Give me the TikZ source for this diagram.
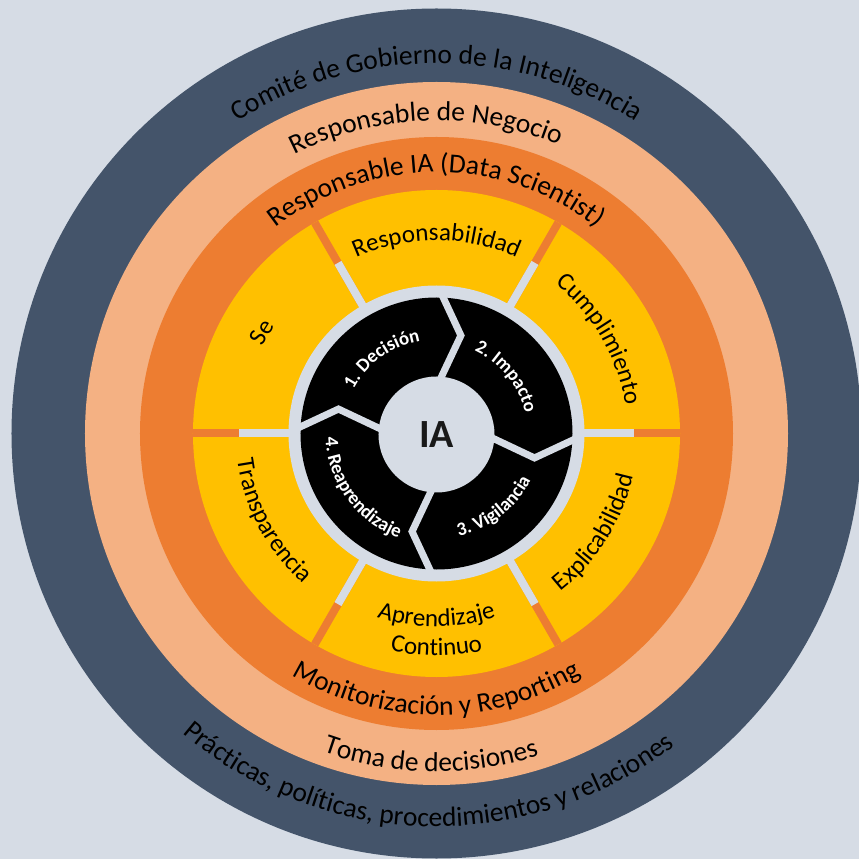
\documentclass[tikz,border=0pt]{standalone}
\usepackage{fontspec}
\setmainfont{Carlito}
\usepackage{tikz}
\usetikzlibrary{decorations.text}
\definecolor{bggray}{HTML}{D6DCE5}
\definecolor{slate}{HTML}{44546A}
\definecolor{peach}{HTML}{F4B183}
\definecolor{orng}{HTML}{ED7D31}
\definecolor{gold}{HTML}{FFC000}
\pgfdeclarelayer{nodelayer}
\pgfdeclarelayer{edgelayer}
\pgfsetlayers{edgelayer,nodelayer,main}
\newcommand{\ringfont}{\fontsize{27.5}{30}\selectfont}
\newcommand{\segfont}{\fontsize{25}{28}\selectfont}
\newcommand{\cyclefont}{\fontsize{19}{21}\selectfont\bfseries}
\tikzset{ringtext/.style={decorate, decoration={text along path, text align=center, text={|\ringfont|#1}}}}
\tikzset{segtext/.style={decorate, decoration={text along path, text align=center, text={|\segfont|#1}}}}
\tikzset{cycletext/.style={decorate, decoration={text along path, text align=center, text color=white, text={|\cyclefont|#1}}}}
\tikzset{spoke/.style={line width=8pt}}
\tikzset{notch/.style={draw=bggray, line width=7pt, miter limit=10}}
\tikzset{core/.style={circle, fill=bggray, minimum size=116pt, inner sep=0pt, font=\fontsize{40}{44}\selectfont\bfseries, text=black!90}}

\begin{document}
\begin{tikzpicture}[x=1pt, y=1pt]
	\useasboundingbox (-436.5,-425.5) rectangle (422.5,433.5);
	\begin{pgfonlayer}{edgelayer}
		\fill [bggray] (-436.5,-425.5) rectangle (422.5,433.5);
		\fill [slate] (0,0) circle (425);
		\fill [peach] (0,0) circle (351.5);
		\fill [orng] (0,0) circle (296.5);
		\fill [gold] (0,0) circle (243.5);
		\foreach \a in {0,60,...,300} {
			\draw [spoke, orng] (\a:140) -- (\a:243.5);
			\draw [spoke, bggray] (\a:140) -- (\a:197);
		}
		\fill [bggray] (0,0) circle (148);
		\fill [black] (0,0) circle (136);
		\draw [notch] (88:140) -- (76:101) -- (88:50);
		\draw [notch] (-2:140) -- (-14:101) -- (-2:50);
		\draw [notch] (268:140) -- (256:101) -- (268:50);
		\draw [notch] (178:140) -- (166:101) -- (178:50);
	\end{pgfonlayer}
	\begin{pgfonlayer}{nodelayer}
		\node [style=core] (ia) at (0, -1) {IA};
		\path [ringtext={Comité de Gobierno de la Inteligencia}] (160:370) arc [start angle=160, end angle=20, radius=370];
		\path [ringtext={Responsable de Negocio}] (152:313) arc [start angle=152, end angle=32, radius=313];
		\path [ringtext={Responsable IA (Data Scientist)}] (160:261) arc [start angle=160, end angle=20, radius=261];
		\path [ringtext={Monitorización y Reporting}] (200:281.5) arc [start angle=200, end angle=340, radius=281.5];
		\path [ringtext={Toma de decisiones}] (209:338) arc [start angle=209, end angle=329, radius=338];
		\path [ringtext={Prácticas, políticas, procedimientos y relaciones}] (188:393) arc [start angle=188, end angle=349, radius=393];
		\path [segtext={Responsabilidad}] (140:193) arc [start angle=140, end angle=40, radius=193];
		\path [segtext={Cumplimiento}] (80:191) arc [start angle=80, end angle=-20, radius=191];
		\path [segtext={Se}] (200:194) arc [start angle=200, end angle=100, radius=194];
		\path [segtext={Transparencia}] (158:201) arc [start angle=158, end angle=258, radius=201];
		\path [segtext={Explicabilidad}] (278:201) arc [start angle=278, end angle=378, radius=201];
		\path [segtext={Aprendizaje}] (220:193) arc [start angle=220, end angle=320, radius=193];
		\path [segtext={Continuo}] (220:222) arc [start angle=220, end angle=320, radius=222];
		\path [cycletext={1. Decisión}] (176:94) arc [start angle=176, end angle=76, radius=94];
		\path [cycletext={2. Impacto}] (89:91) arc [start angle=89, end angle=-11, radius=91];
		\path [cycletext={3. Vigilancia}] (258:105) arc [start angle=258, end angle=358, radius=105];
		\path [cycletext={4. Reaprendizaje}] (156:111) arc [start angle=156, end angle=276, radius=111];
	\end{pgfonlayer}
\end{tikzpicture}
\end{document}
